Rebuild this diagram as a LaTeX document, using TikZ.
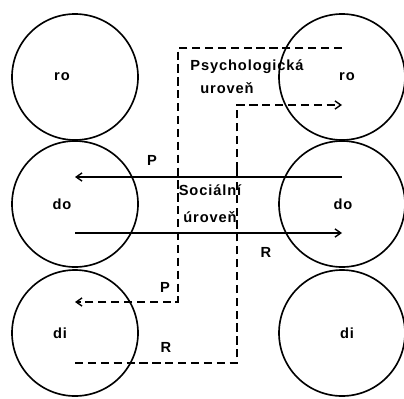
\documentclass[tikz,border=0pt]{standalone}
\usepackage{fontspec}
\setmainfont{Liberation Sans}[BoldFont={Liberation Sans Bold}, LetterSpace=6]
\usepackage{tikz}
\usetikzlibrary{arrows.meta, calc}

\begin{document}
\begin{tikzpicture}[x=0.03cm, y=-0.03cm,
    ego/.style={circle, draw, line width=1.4pt, minimum size=3.78cm, inner sep=0pt},
    tag/.style={font=\fontsize{12.5}{14}\selectfont\bfseries, inner sep=1pt},
    arr/.style={-{Straight Barb[length=5pt, width=7pt]}, line width=1.2pt},
    darr/.style={arr, dash pattern=on 7pt off 4pt},
    dline/.style={line width=1.2pt, dash pattern=on 7pt off 4pt}
  ]
    \useasboundingbox (0,0) rectangle (404,398);

    % ego states, left person
    \node[ego, label={[tag, xshift=-0.39cm]center:ro}] (roL) at (75,77) {};
    \node[ego, label={[tag, xshift=-0.39cm]center:do}] (doL) at (75,204) {};
    \node[ego, label={[tag, xshift=-0.45cm]center:di}] (diL) at (75,333) {};
    % ego states, right person
    \node[ego, label={[tag, xshift=0.15cm]center:ro}] (roR) at (342,77) {};
    \node[ego, label={[tag, xshift=0.03cm]center:do}] (doR) at (342,204) {};
    \node[ego, label={[tag, xshift=0.15cm]center:di}] (diR) at (342,333) {};

    % social level
    \draw[arr] ($(doR)+(0,-27)$) -- ($(doL)+(0,-27)$);
    \draw[arr] ($(doL)+(0,29)$) -- ($(doR)+(0,29)$);
    \node[tag] (pSoc) at (152,160) {P};
    \node[tag] (rSoc) at (266,252) {R};
    \node[tag] (soc1) at (210,190) {Sociální};
    \node[tag] (soc2) at (210,217) {úroveň};

    % psychological level
    \draw[darr] ($(roR)+(0,-29)$) -| (178,302) -- ($(diL)+(0,-31)$);
    \draw[dline] ($(diL)+(0,30)$) -| (237,170);
    \draw[darr] (237,170) |- ($(roR)+(0,28)$);
    \node[tag] (pPsy) at (165,287) {P};
    \node[tag] (rPsy) at (166,347) {R};
    \node[tag] (psy1) at (247,67) {Psychologická};
    \node[tag] (psy2) at (227,88) {uroveň};
\end{tikzpicture}
\end{document}
